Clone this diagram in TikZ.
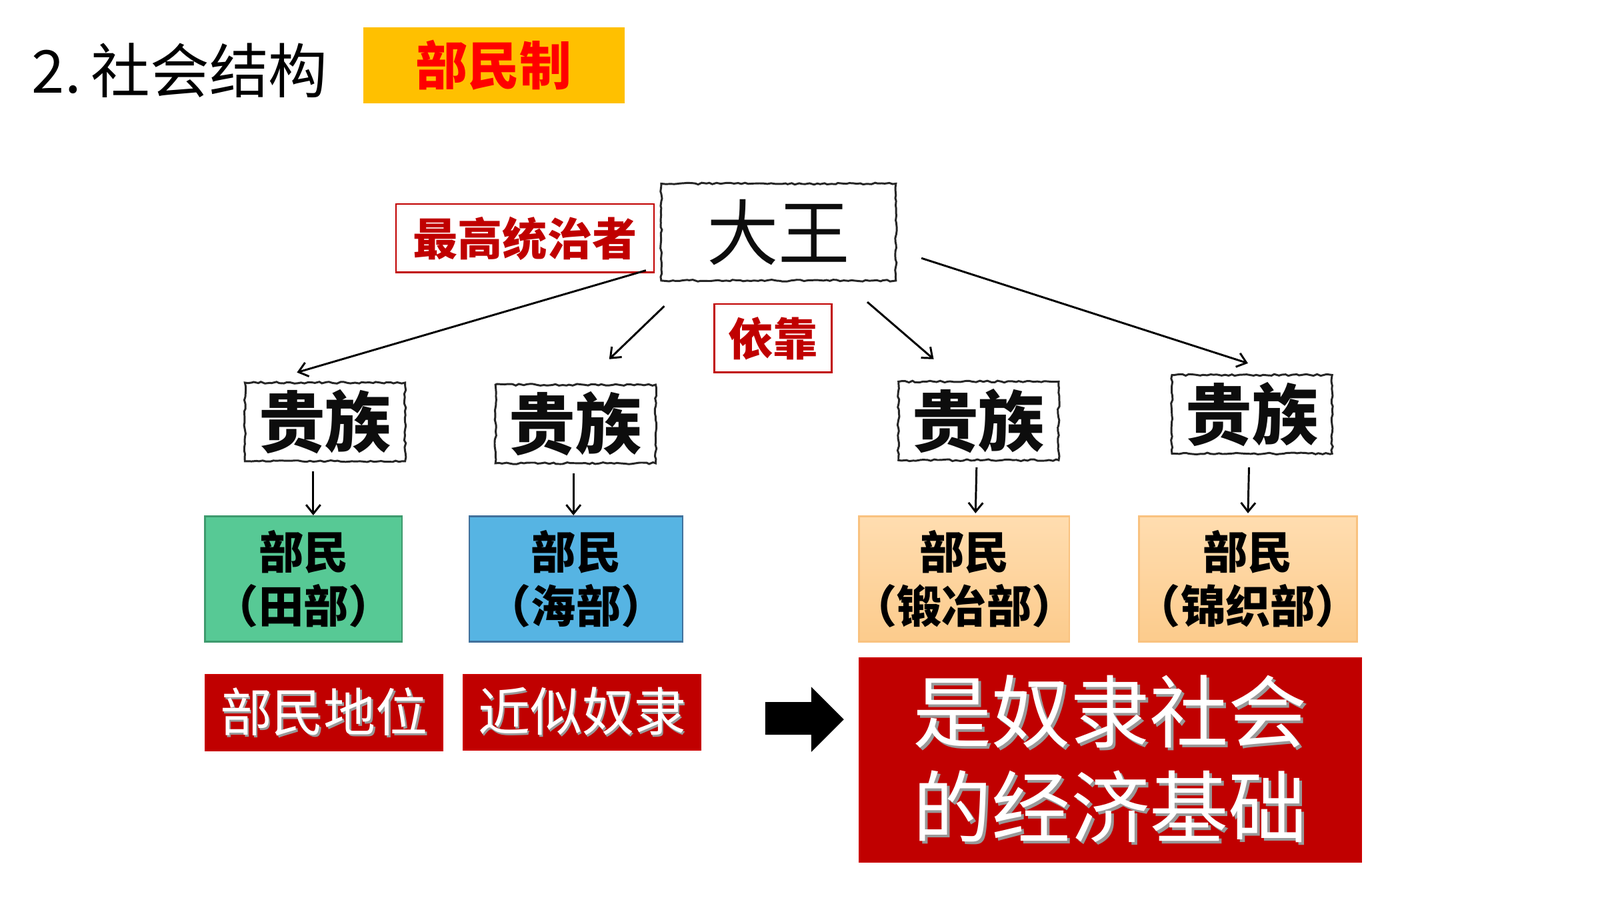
\documentclass[tikz,border=0pt]{standalone}
\usepackage{fontspec}
\setmainfont{Noto Sans CJK SC}
\usetikzlibrary{decorations.pathmorphing, arrows.meta}
\definecolor{gold}{HTML}{FFC000}
\definecolor{brightred}{HTML}{FF0000}
\definecolor{darkred}{HTML}{C00000}
\definecolor{grfill}{HTML}{57C995}
\definecolor{grline}{HTML}{3E9A6E}
\definecolor{blfill}{HTML}{56B4E3}
\definecolor{blline}{HTML}{41719C}
\definecolor{pchtop}{HTML}{FFDDB0}
\definecolor{pchbot}{HTML}{FCCB8C}
\definecolor{pchline}{HTML}{F9C27F}
\newcommand\shd[1]{\leavevmode\rlap{\kern0.035em\raisebox{-0.035em}{\color{black!40}#1}}#1}
\newcommand\lp{\makebox[0.62em][r]{（}}
\newcommand\rp{\makebox[0.62em][l]{）}}
\begin{document}
\begin{tikzpicture}[x=0.02cm,y=-0.02cm,
  rough/.style={draw=black!85, line width=1.1pt, decorate,
    decoration={random steps, segment length=2pt, amplitude=0.5pt},
    inner sep=0pt, text=black!95},
  redframe/.style={draw=darkred, line width=0.9pt, text=darkred, inner sep=0pt, font=\fontsize{25}{30}\selectfont\bfseries},
  minbox/.style={line width=1pt, inner sep=0pt, align=center, text=black, font=\fontsize{25}{30}\selectfont\bfseries},
  redbox/.style={fill=darkred, draw=darkred!80!red, line width=0.6pt, inner sep=0pt, text=white, align=center},
  arr/.style={line width=1.1pt, -{Straight Barb[length=5pt,width=8pt]}}
]
\fill[white] (0,0) rectangle (1568,882);
\useasboundingbox (0,0) rectangle (1568,882);

% title
\node[anchor=west, inner sep=0pt, font=\fontsize{33}{38}\selectfont] (title) at (31,69) {2.\,社会结构};
\node[fill=gold, minimum width=256*0.02cm, minimum height=74*0.02cm, inner sep=0pt,
  text=brightred, font=\fontsize{29}{34}\selectfont\bfseries] (bmz) at (484,64) {部民制};

% top
\node[rough, minimum width=230*0.02cm, minimum height=95*0.02cm, font=\fontsize{40}{46}\selectfont] (dw) at (763,227.5) {大王};
\node[redframe, minimum width=253*0.02cm, minimum height=67*0.02cm] (zg) at (514.5,233.5) {最高统治者};
\node[redframe, minimum width=115*0.02cm, minimum height=67*0.02cm] (yk) at (757.5,331.5) {依靠};

% nobles
\begin{scope}[every node/.append style={rough, minimum width=157*0.02cm, minimum height=77*0.02cm, font=\fontsize{37}{42}\selectfont\bfseries}]
\node (g1) at (318.5,413.5) {贵族};
\node (g2) at (564,415.5) {贵族};
\node (g3) at (959,412.5) {贵族};
\node (g4) at (1227,406) {贵族};
\end{scope}

% be-min boxes
\node[minbox, fill=grfill, draw=grline, minimum width=193*0.02cm, minimum height=123*0.02cm] (b1) at (297.5,567.5) {部民\\\lp 田部\rp};
\node[minbox, fill=blfill, draw=blline, minimum width=209*0.02cm, minimum height=123*0.02cm] (b2) at (564.5,567.5) {部民\\\lp 海部\rp};
\node[minbox, top color=pchtop, bottom color=pchbot, draw=pchline, minimum width=206*0.02cm, minimum height=123*0.02cm] (b3) at (945,567.5) {部民\\\lp 锻冶部\rp};
\node[minbox, top color=pchtop, bottom color=pchbot, draw=pchline, minimum width=214*0.02cm, minimum height=123*0.02cm] (b4) at (1223,567.5) {部民\\\lp 锦织部\rp};

% red boxes
\node[redbox, minimum width=233*0.02cm, minimum height=75*0.02cm, font=\fontsize{29}{34}\selectfont] (r1) at (317.5,698.5) {\shd{部民地位}};
\node[redbox, minimum width=233*0.02cm, minimum height=74*0.02cm, font=\fontsize{29}{34}\selectfont] (r2) at (570.5,698) {\shd{近似奴隶}};
\node[redbox, minimum width=492*0.02cm, minimum height=200*0.02cm, font=\fontsize{44}{53}\selectfont] (r3) at (1088,745) {\shd{是奴隶社会}\\\shd{的经济基础}};

% big black arrow
\fill[black] (750,688) -- (795,688) -- (795,673) -- (827,705) -- (795,737) -- (795,720) -- (750,720) -- cycle;

% connectors
\coordinate (s1) at (633,265); \coordinate (e1) at (291,365);
\coordinate (s2) at (651,300); \coordinate (e2) at (597,352);
\coordinate (s3) at (850,296); \coordinate (e3) at (915,352);
\coordinate (s4) at (903,253); \coordinate (e4) at (1223,356);
\draw[arr] (s1) -- (e1);
\draw[arr] (s2) -- (e2);
\draw[arr] (s3) -- (e3);
\draw[arr] (s4) -- (e4);

\coordinate (d1s) at (307,462); \coordinate (d1e) at (307,505);
\coordinate (d2s) at (562,464); \coordinate (d2e) at (562,505);
\coordinate (d3s) at (957,458); \coordinate (d3e) at (956,503);
\coordinate (d4s) at (1224,458); \coordinate (d4e) at (1223,503);
\draw[arr] (d1s) -- (d1e);
\draw[arr] (d2s) -- (d2e);
\draw[arr] (d3s) -- (d3e);
\draw[arr] (d4s) -- (d4e);
\end{tikzpicture}
\end{document}
